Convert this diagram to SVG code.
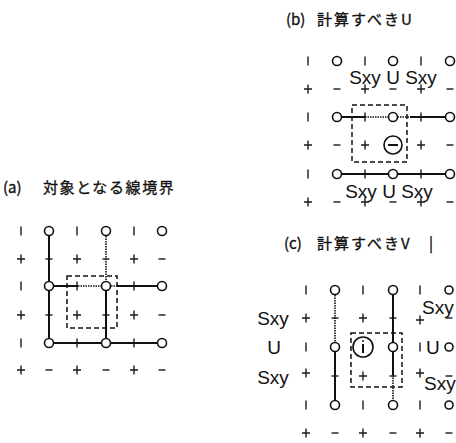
<svg xmlns="http://www.w3.org/2000/svg" width="456" height="443" viewBox="0 0 456 443">
<style>
.t{font-family:"Noto Sans CJK JP","Noto Sans",sans-serif;font-size:15px;fill:#111;stroke:#111;stroke-width:0.35}
.lb{font-family:"Liberation Sans",Arial,sans-serif;font-size:19px;fill:#111}
.c{fill:#fff;stroke:#111;stroke-width:1.6}
.s{stroke:#111;stroke-width:2;fill:none}
.d{stroke:#111;stroke-width:1.6;fill:none;stroke-dasharray:1.5 1}
.r{stroke:#111;stroke-width:1.5;fill:none;stroke-dasharray:5 3}
.k{stroke:#1a1a1a;stroke-width:1.4;fill:none}
</style>
<defs>
<path id="p" class="k" d="M-4 0H4M0 -4.5V4.5"/>
<path id="n" class="k" d="M-3.5 0H3.5"/>
<path id="v" class="k" d="M0 -4.5V4.5"/>
</defs>
<rect width="456" height="443" fill="#fff"/>

<!-- Panel (a) -->
<g id="title-a"><text class="t" y="193"><tspan x="3">(a)</tspan><tspan x="43" letter-spacing="1.6">対象となる線境界</tspan></text></g>
<g id="marks-a">
<use href="#v" x="21" y="231"/><use href="#v" x="77" y="231"/><use href="#v" x="134" y="231"/>
<use href="#v" x="21" y="286"/><use href="#v" x="77" y="286"/><use href="#v" x="134" y="286"/>
<use href="#v" x="21" y="343"/><use href="#v" x="77" y="343"/><use href="#v" x="134" y="343"/>
<use href="#p" x="21" y="259"/><use href="#n" x="49" y="259"/><use href="#p" x="77" y="259"/><use href="#n" x="106" y="259"/><use href="#p" x="134" y="259"/><use href="#n" x="162" y="259"/>
<use href="#p" x="21" y="315"/><use href="#n" x="49" y="315"/><use href="#p" x="77" y="315"/><use href="#n" x="106" y="315"/><use href="#p" x="134" y="315"/><use href="#n" x="162" y="315"/>
<use href="#p" x="21" y="370"/><use href="#n" x="49" y="370"/><use href="#p" x="77" y="370"/><use href="#n" x="106" y="370"/><use href="#p" x="134" y="370"/><use href="#n" x="162" y="370"/>
</g>
<g id="connectors-a">
<path class="s" d="M49 231V343M106 286V343M49 343H162M49 286H78M117 286H162"/>
<path class="d" d="M106 231V286M78 286H106M106 286H117"/>
<rect class="r" x="67" y="276" width="50" height="52"/>
</g>
<g id="nodes-a">
<circle class="c" cx="49" cy="231" r="4.5"/><circle class="c" cx="106" cy="231" r="4.5"/><circle class="c" cx="162" cy="231" r="4.5"/>
<circle class="c" cx="49" cy="286" r="4.5"/><circle class="c" cx="106" cy="286" r="4.5"/><circle class="c" cx="162" cy="286" r="4.5"/>
<circle class="c" cx="49" cy="343" r="4.5"/><circle class="c" cx="106" cy="343" r="4.5"/><circle class="c" cx="162" cy="343" r="4.5"/>
</g>

<!-- Panel (b) -->
<g id="title-b"><text class="t" y="25"><tspan x="286">(b)</tspan><tspan x="317" letter-spacing="2">計算すべきU</tspan></text></g>
<g id="marks-b">
<use href="#v" x="308" y="61"/><use href="#v" x="365" y="61"/><use href="#v" x="421" y="61"/>
<use href="#v" x="308" y="117"/><use href="#v" x="365" y="117"/><use href="#v" x="421" y="117"/>
<use href="#v" x="308" y="174"/><use href="#v" x="365" y="174"/><use href="#v" x="421" y="174"/>
<use href="#p" x="308" y="89"/><use href="#n" x="337" y="89"/><use href="#p" x="365" y="89"/><use href="#n" x="393" y="89"/><use href="#p" x="421" y="89"/><use href="#n" x="450" y="89"/>
<use href="#p" x="308" y="145"/><use href="#n" x="337" y="145"/><use href="#p" x="365" y="145"/><use href="#p" x="421" y="145"/><use href="#n" x="450" y="145"/>
<use href="#p" x="308" y="202"/><use href="#n" x="337" y="202"/><use href="#p" x="365" y="202"/><use href="#n" x="393" y="202"/><use href="#p" x="421" y="202"/><use href="#n" x="450" y="202"/>
</g>
<g id="connectors-b">
<path class="s" d="M337 117H365M410 117H450M337 174H450"/>
<path class="d" d="M365 117H410"/>
<rect class="r" x="352" y="105" width="55" height="57"/>
</g>
<g id="nodes-b">
<circle class="c" cx="337" cy="61" r="4.5"/><circle class="c" cx="393" cy="61" r="4.5"/><circle class="c" cx="450" cy="61" r="4.5"/>
<circle class="c" cx="337" cy="117" r="4.5"/><circle class="c" cx="393" cy="117" r="4.5"/><circle class="c" cx="450" cy="117" r="4.5"/>
<circle class="c" cx="337" cy="174" r="4.5"/><circle class="c" cx="393" cy="174" r="4.5"/><circle class="c" cx="450" cy="174" r="4.5"/>
<circle class="c" cx="393" cy="145" r="9"/><path class="s" d="M388 145H398" stroke-width="1.4"/>
</g>
<g id="labels-b">
<text class="lb" x="393" y="84" text-anchor="middle">Sxy U Sxy</text>
<text class="lb" x="389" y="198" text-anchor="middle">Sxy U Sxy</text>
</g>

<!-- Panel (c) -->
<g id="title-c"><text class="t" y="249"><tspan x="284">(c)</tspan><tspan x="317" letter-spacing="2">計算すべきV</tspan><tspan x="429">|</tspan></text></g>
<g id="marks-c">
<use href="#v" x="306" y="290"/><use href="#v" x="363" y="290"/><use href="#v" x="420" y="290"/>
<use href="#v" x="306" y="347"/><use href="#v" x="420" y="347"/>
<use href="#v" x="306" y="405"/><use href="#v" x="363" y="405"/><use href="#v" x="420" y="405"/>
<use href="#p" x="306" y="318"/><use href="#n" x="335" y="318"/><use href="#p" x="363" y="318"/><use href="#n" x="393" y="318"/><use href="#p" x="420" y="320"/><use href="#n" x="449" y="318"/>
<use href="#p" x="306" y="373"/><use href="#n" x="335" y="376"/><use href="#p" x="363" y="376"/><use href="#n" x="393" y="376"/><use href="#p" x="420" y="373"/><use href="#n" x="449" y="376"/>
<use href="#p" x="306" y="433"/><use href="#n" x="335" y="433"/><use href="#p" x="363" y="433"/><use href="#n" x="393" y="433"/><use href="#p" x="420" y="433"/><use href="#n" x="449" y="433"/>
</g>
<g id="connectors-c">
<path class="s" d="M335 347V405M393 290V375"/>
<path class="d" d="M335 290V347M393 375V405"/>
<rect class="r" x="351" y="333" width="51" height="54"/>
</g>
<g id="nodes-c">
<circle class="c" cx="335" cy="290" r="4.5"/><circle class="c" cx="393" cy="290" r="4.5"/><circle class="c" cx="449" cy="290" r="4"/>
<circle class="c" cx="335" cy="347" r="4.5"/><circle class="c" cx="393" cy="347" r="4.5"/><circle class="c" cx="449" cy="347" r="4"/>
<circle class="c" cx="335" cy="405" r="4.5"/><circle class="c" cx="393" cy="405" r="4.5"/><circle class="c" cx="449" cy="405" r="4"/>
<circle class="c" cx="363" cy="347" r="10"/><path class="s" d="M363 344V353" stroke-width="1.4"/><circle cx="363" cy="341" r="0.9" fill="#111"/>
</g>
<g id="labels-c">
<text class="lb" x="273" y="325" text-anchor="middle">Sxy</text>
<text class="lb" x="274" y="354" text-anchor="middle">U</text>
<text class="lb" x="273" y="384" text-anchor="middle">Sxy</text>
<text class="lb" x="422" y="314">Sxy</text>
<text class="lb" x="426" y="354">U</text>
<text class="lb" x="424" y="390">Sxy</text>
</g>
</svg>
